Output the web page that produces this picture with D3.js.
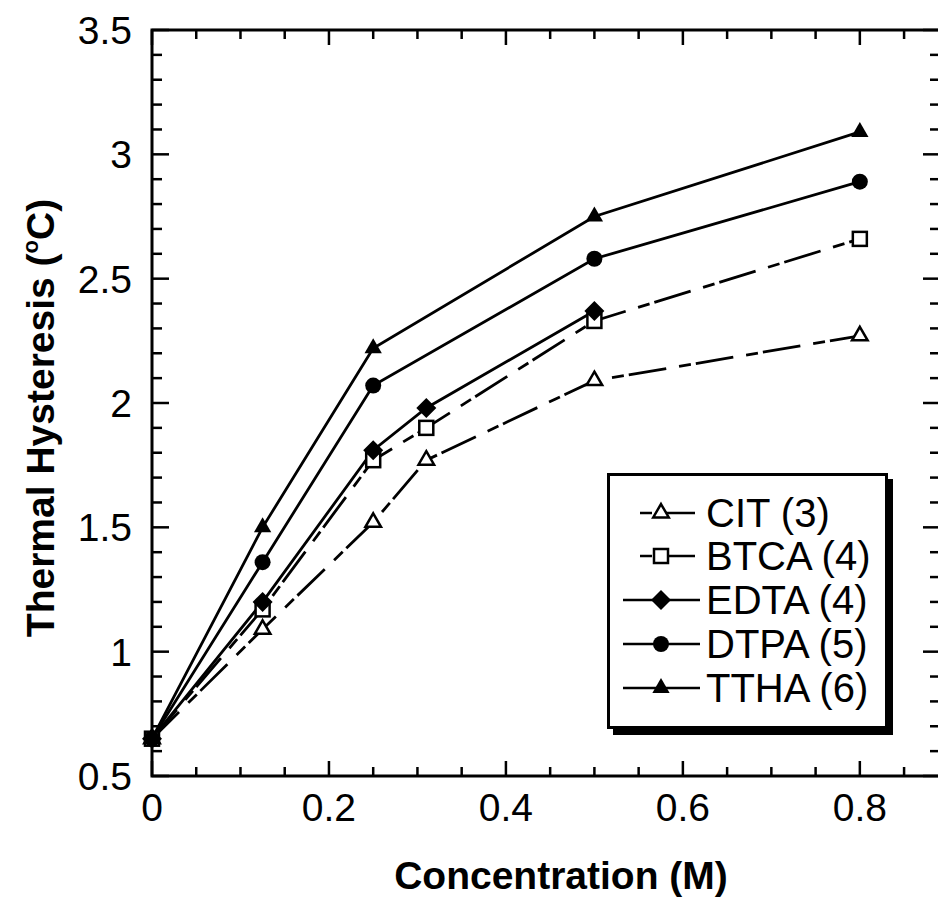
<!DOCTYPE html>
<html>
<head>
<meta charset="utf-8">
<script src="https://cdn.jsdelivr.net/npm/d3@7"></script>
<style>
  body { margin: 0; background: #fff; }
  text { font-family: "Liberation Sans", Arial, sans-serif; fill: #000; }
</style>
</head>
<body>
<div id="container"></div>
<script>
/* CONSTANTS AND GLOBALS */
const width = 938;
const height = 898;
const margin = { top: 30, right: 0, bottom: 122, left: 152 };

// data
const concCIT = [0, 0.125, 0.25, 0.31, 0.5, 0.8];
const valCIT = [0.65, 1.09, 1.52, 1.77, 2.09, 2.27];
const concBTCA = [0, 0.125, 0.25, 0.31, 0.5, 0.8];
const valBTCA = [0.65, 1.17, 1.77, 1.90, 2.33, 2.66];
const concEDTA = [0, 0.125, 0.25, 0.31, 0.5];
const valEDTA = [0.65, 1.20, 1.81, 1.98, 2.37];
const concDTPA = [0, 0.125, 0.25, 0.5, 0.8];
const valDTPA = [0.65, 1.36, 2.07, 2.58, 2.89];
const concTTHA = [0, 0.125, 0.25, 0.5, 0.8];
const valTTHA = [0.65, 1.50, 2.22, 2.75, 3.09];

const seriesNames = ["CIT (3)", "BTCA (4)", "EDTA (4)", "DTPA (5)", "TTHA (6)"];
const xTickLabels = [0, 0.2, 0.4, 0.6, 0.8];
const yTickLabels = [0.5, 1, 1.5, 2, 2.5, 3, 3.5];

const dashed = "38,13,12,5";

const series = [
  { name: seriesNames[0], x: concCIT, y: valCIT, marker: "triOpen", dash: dashed },
  { name: seriesNames[1], x: concBTCA, y: valBTCA, marker: "square", dash: dashed },
  { name: seriesNames[2], x: concEDTA, y: valEDTA, marker: "diamond", dash: null },
  { name: seriesNames[3], x: concDTPA, y: valDTPA, marker: "circle", dash: null },
  { name: seriesNames[4], x: concTTHA, y: valTTHA, marker: "triFilled", dash: null }
];

/* SCALES */
const xScale = d3.scaleLinear()
  .domain([0, 0.8906])
  .range([margin.left, width + 2 - margin.right]);

const yScale = d3.scaleLinear()
  .domain([0.5, 3.5])
  .range([height - margin.bottom, margin.top]);

/* SVG */
const svg = d3.select("#container")
  .append("svg")
  .attr("width", width)
  .attr("height", height);

const x0 = xScale.range()[0], x1 = xScale.range()[1];
const y0 = yScale.range()[0], y1 = yScale.range()[1];

// minor / major ticks
const xMinor = d3.range(0, 0.891, 0.05);
const yMinor = d3.range(0.5, 3.501, 0.1);
const isMajorX = v => Math.abs(v / 0.2 - Math.round(v / 0.2)) < 1e-6;
const isMajorY = v => Math.abs(v / 0.5 - Math.round(v / 0.5)) < 1e-6;

const ticks = svg.append("g").attr("stroke", "#000").attr("stroke-width", 2.5);

// bottom & top
xMinor.forEach(v => {
  const len = isMajorX(v) ? 15 : 9;
  ticks.append("line").attr("x1", xScale(v)).attr("x2", xScale(v))
    .attr("y1", y0).attr("y2", y0 - len);
  ticks.append("line").attr("x1", xScale(v)).attr("x2", xScale(v))
    .attr("y1", y1).attr("y2", y1 + len);
});
// left & right
yMinor.forEach(v => {
  const len = isMajorY(v) ? 17 : 10;
  ticks.append("line").attr("x1", x0).attr("x2", x0 + len)
    .attr("y1", yScale(v)).attr("y2", yScale(v));
  ticks.append("line").attr("x1", x1).attr("x2", x1 - len)
    .attr("y1", yScale(v)).attr("y2", yScale(v));
});

// frame
svg.append("rect")
  .attr("x", x0).attr("y", y1)
  .attr("width", x1 - x0).attr("height", y0 - y1)
  .attr("fill", "none").attr("stroke", "#000").attr("stroke-width", 3);

// tick labels
svg.append("g").selectAll("text")
  .data(xTickLabels)
  .join("text")
  .attr("x", d => xScale(d))
  .attr("y", 821)
  .attr("text-anchor", "middle")
  .style("font-size", "39px")
  .text(d => d);

svg.append("g").selectAll("text")
  .data(yTickLabels)
  .join("text")
  .attr("x", 132)
  .attr("y", d => yScale(d) + 14)
  .attr("text-anchor", "end")
  .style("font-size", "39px")
  .text(d => d);

// axis titles
svg.append("text")
  .attr("x", 561).attr("y", 889)
  .attr("text-anchor", "middle")
  .style("font-size", "39px").style("font-weight", "bold")
  .text("Concentration (M)");

const yt = svg.append("text")
  .attr("transform", "translate(54,418) rotate(-90)")
  .attr("text-anchor", "middle")
  .style("font-size", "39px").style("font-weight", "bold");
yt.append("tspan").text("Thermal Hysteresis (");
yt.append("tspan").attr("dy", -16).style("font-size", "22px").text("o");
yt.append("tspan").attr("dy", 16).text("C)");

/* MARKERS */
function drawMarker(g, kind, cx, cy) {
  if (kind === "triOpen") {
    g.append("path").attr("d", d3.symbol(d3.symbolTriangle, 105)())
      .attr("transform", `translate(${cx},${cy})`)
      .attr("fill", "#fff").attr("stroke", "#000").attr("stroke-width", 2.5);
  } else if (kind === "triFilled") {
    g.append("path").attr("d", d3.symbol(d3.symbolTriangle, 130)())
      .attr("transform", `translate(${cx},${cy})`)
      .attr("fill", "#000");
  } else if (kind === "square") {
    g.append("rect").attr("x", cx - 7).attr("y", cy - 7)
      .attr("width", 14).attr("height", 14)
      .attr("fill", "#fff").attr("stroke", "#000").attr("stroke-width", 2.5);
  } else if (kind === "diamond") {
    const r = 10;
    g.append("path")
      .attr("d", `M${cx},${cy - r}L${cx + r},${cy}L${cx},${cy + r}L${cx - r},${cy}Z`)
      .attr("fill", "#000");
  } else if (kind === "circle") {
    g.append("circle").attr("cx", cx).attr("cy", cy).attr("r", 8)
      .attr("fill", "#000");
  }
}

/* LINES */
const line = d3.line()
  .x(d => xScale(d[0]))
  .y(d => yScale(d[1]));

const plot = svg.append("g");
series.forEach(s => {
  const pts = s.x.map((v, i) => [v, s.y[i]]);
  plot.append("path")
    .attr("d", line(pts))
    .attr("fill", "none")
    .attr("stroke", "#000")
    .attr("stroke-width", 2.8)
    .attr("stroke-dasharray", s.dash);
});
series.forEach(s => {
  s.x.forEach((v, i) => drawMarker(plot, s.marker, xScale(v), yScale(s.y[i])));
});

/* LEGEND */
const legend = svg.append("g");
// shadow
legend.append("rect")
  .attr("x", 613).attr("y", 479).attr("width", 280).attr("height", 256)
  .attr("fill", "#000");
legend.append("rect")
  .attr("x", 608.5).attr("y", 474.5).attr("width", 278).attr("height", 253)
  .attr("fill", "#fff").attr("stroke", "#000").attr("stroke-width", 3);

const rowY = [513, 556, 600, 644, 688];
series.forEach((s, i) => {
  const cy = rowY[i];
  if (s.dash) {
    legend.append("line")
      .attr("x1", 640).attr("x2", 697).attr("y1", cy).attr("y2", cy)
      .attr("stroke", "#000").attr("stroke-width", 2.5)
      .attr("stroke-dasharray", s.dash).attr("stroke-dashoffset", 51);
  } else {
    legend.append("line")
      .attr("x1", 623).attr("x2", 700).attr("y1", cy).attr("y2", cy)
      .attr("stroke", "#000").attr("stroke-width", 2.5);
  }
  drawMarker(legend, s.marker, 661, cy);
  legend.append("text")
    .attr("x", 706).attr("y", cy + 14)
    .style("font-size", "40px")
    .text(s.name);
});
</script>
</body>
</html>
